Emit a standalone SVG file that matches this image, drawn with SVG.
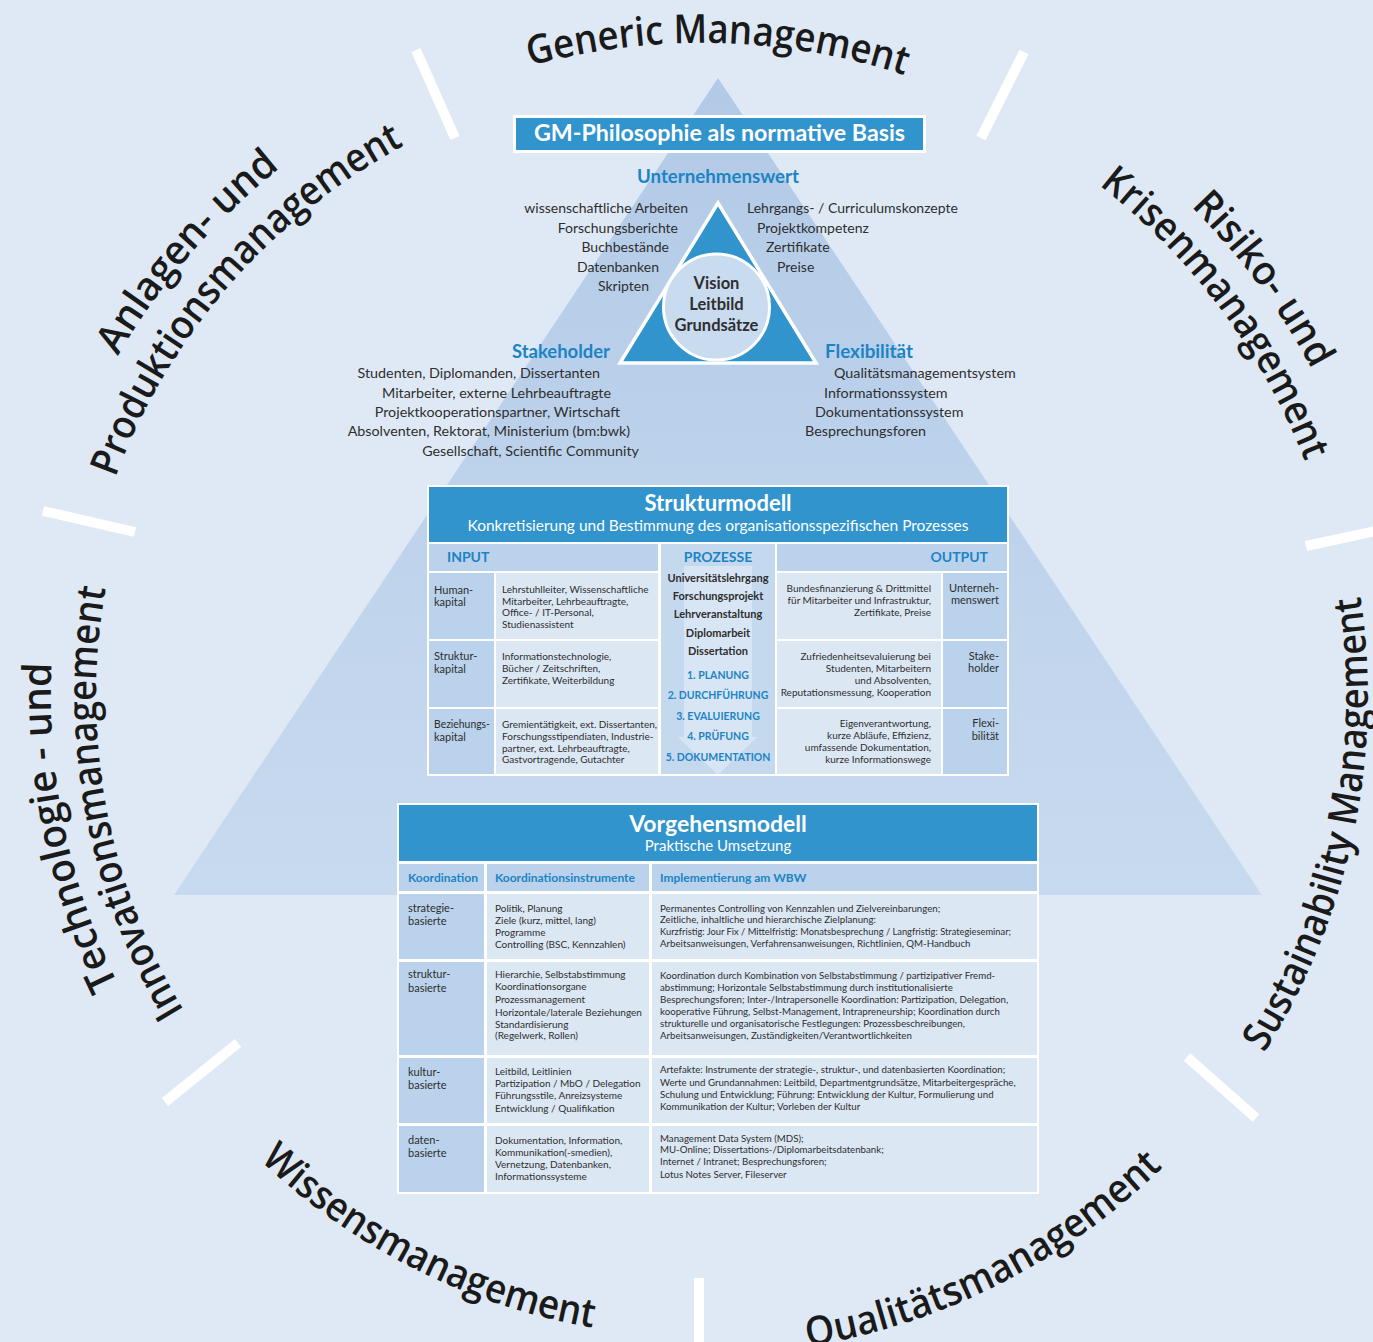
<svg xmlns="http://www.w3.org/2000/svg" width="1373" height="1342" viewBox="0 0 1373 1342">
<defs>
<linearGradient id="pyr" x1="0" y1="0" x2="0" y2="1">
<stop offset="0" stop-color="#b2cae7"/>
<stop offset="1" stop-color="#c8daef"/>
</linearGradient>
<path id="arcGen" d="M94.0,457.7 A653,653 0 0 1 1320.9,487.7"/>
<path id="arcRis1" d="M504.3,32.9 A692,692 0 0 1 1279.7,1076.9"/>
<path id="arcRis2" d="M516.1,76.3 A647,647 0 0 1 1242.8,1051.2"/>
<path id="arcAnl1" d="M111.9,1025.8 A676,676 0 0 1 942.0,64.1"/>
<path id="arcAnl2" d="M154.5,999.5 A626,626 0 0 1 926.4,111.6"/>
<path id="arcTec1" d="M608.0,1340.2 A651,651 0 0 1 359.9,142.1"/>
<path id="arcTec2" d="M602.0,1293.7 A606,606 0 0 1 394.5,173.9"/>
<path id="arcWis" d="M65.4,621.2 A641,641 0 0 0 1141.6,1162.5"/>
<path id="arcQua" d="M250.9,1176.4 A659,659 0 0 0 1356.4,618.0"/>
<path id="arcSus" d="M795.8,1355.3 A666,666 0 0 0 1053.9,130.6"/>
</defs>
<style>
.arc{font-family:'Open Sans',Lato,'DejaVu Sans',sans-serif;font-weight:600;font-size:40px;fill:#1a1a1a;text-anchor:middle}
.sep{stroke:#ffffff;stroke-width:10;fill:none}
.hb{fill:#3194cd}
.dk{fill:#bad2eb}
.lt{fill:#dce7f4}
.wh{fill:#ffffff}
.tx{font-family:Lato,'Open Sans',sans-serif;fill:#2e2e2e}
.bl{font-family:Lato,'Open Sans',sans-serif;fill:#1b84c5;font-weight:700}
.wt{font-family:Lato,'Open Sans',sans-serif;fill:#ffffff}
.b{font-weight:700}
.e{text-anchor:end}
.m{text-anchor:middle}
.f10{font-size:10px}
.f97{font-size:9.7px}
.f11{font-size:11px}
.f14{font-size:14px}
</style>
<rect x="0" y="0" width="1373" height="1342" fill="#dfe9f5"/>
<polygon id="pyramid" points="718,78 174,895 1262,895" fill="url(#pyr)"/>

<g id="separators">
<line class="sep" x1="416" y1="50" x2="455" y2="138"/>
<line class="sep" x1="1024" y1="52" x2="981" y2="138"/>
<line class="sep" x1="43" y1="511" x2="135" y2="532"/>
<line class="sep" x1="1306" y1="546" x2="1380" y2="530"/>
<line class="sep" x1="165" y1="1102" x2="238" y2="1043"/>
<line class="sep" x1="1187" y1="1057" x2="1256" y2="1118"/>
<line class="sep" x1="699" y1="1278" x2="699" y2="1350"/>
</g>

<g id="label-generic-management"><text class="arc"><textPath href="#arcGen" startOffset="50%" textLength="380" lengthAdjust="spacingAndGlyphs">Generic Management</textPath></text></g>
<g id="label-risiko"><text class="arc"><textPath href="#arcRis1" startOffset="50%" textLength="204" lengthAdjust="spacingAndGlyphs">Risiko- und</textPath></text><text class="arc"><textPath href="#arcRis2" startOffset="50%" textLength="349" lengthAdjust="spacingAndGlyphs">Krisenmanagement</textPath></text></g>
<g id="label-anlagen"><text class="arc"><textPath href="#arcAnl1" startOffset="50%" textLength="250" lengthAdjust="spacingAndGlyphs">Anlagen- und</textPath></text><text class="arc"><textPath href="#arcAnl2" startOffset="50%" textLength="450" lengthAdjust="spacingAndGlyphs">Produktionsmanagement</textPath></text></g>
<g id="label-technologie"><text class="arc"><textPath href="#arcTec1" startOffset="50%" textLength="332" lengthAdjust="spacingAndGlyphs">Technologie - und</textPath></text><text class="arc"><textPath href="#arcTec2" startOffset="50%" textLength="439" lengthAdjust="spacingAndGlyphs">Innovationsmanagement</textPath></text></g>
<g id="label-wissensmanagement"><text class="arc"><textPath href="#arcWis" startOffset="50%" textLength="378" lengthAdjust="spacingAndGlyphs">Wissensmanagement</textPath></text></g>
<g id="label-qualitaetsmanagement"><text class="arc"><textPath href="#arcQua" startOffset="50%" textLength="404" lengthAdjust="spacingAndGlyphs">Qualitätsmanagement</textPath></text></g>
<g id="label-sustainability"><text class="arc"><textPath href="#arcSus" startOffset="50%" textLength="477" lengthAdjust="spacingAndGlyphs">Sustainability Management</textPath></text></g>

<g id="gm-philosophie">
<rect class="wh" x="513" y="115" width="413" height="38"/>
<rect class="hb" x="516" y="118" width="407" height="32"/>
<text class="wt b m" x="719.5" y="141" font-size="23" textLength="371" lengthAdjust="spacingAndGlyphs">GM-Philosophie als normative Basis</text>
</g>

<g id="unternehmenswert">
<text class="bl m" x="718" y="183" font-size="18.5" textLength="162" lengthAdjust="spacingAndGlyphs">Unternehmenswert</text>
<text class="tx f14 e" x="688" y="213">wissenschaftliche Arbeiten</text>
<text class="tx f14 e" x="678" y="233">Forschungsberichte</text>
<text class="tx f14 e" x="669" y="252">Buchbestände</text>
<text class="tx f14 e" x="659" y="272">Datenbanken</text>
<text class="tx f14 e" x="649" y="291">Skripten</text>
<text class="tx f14" x="747" y="213">Lehrgangs- / Curriculumskonzepte</text>
<text class="tx f14" x="757" y="233">Projektkompetenz</text>
<text class="tx f14" x="766" y="252">Zertifikate</text>
<text class="tx f14" x="777" y="272">Preise</text>
</g>

<g id="vision-triangle">
<polygon points="718,203 620,363 816,363" fill="#3194cd" stroke="#ffffff" stroke-width="3.5" stroke-linejoin="miter"/>
<circle cx="716.5" cy="307" r="53" fill="#c9dbef" stroke="#ffffff" stroke-width="3"/>
<text class="tx b m" x="716.5" y="289" font-size="16.5" fill="#222">Vision</text>
<text class="tx b m" x="716.5" y="310" font-size="16.5" fill="#222">Leitbild</text>
<text class="tx b m" x="716.5" y="331" font-size="16.5" fill="#222">Grundsätze</text>
</g>

<g id="stakeholder">
<text class="bl e" x="610" y="358" font-size="18.5" textLength="98" lengthAdjust="spacingAndGlyphs">Stakeholder</text>
<text class="tx e" font-size="14.3" x="600" y="378">Studenten, Diplomanden, Dissertanten</text>
<text class="tx e" font-size="14.3" x="611" y="398">Mitarbeiter, externe Lehrbeauftragte</text>
<text class="tx e" font-size="14.3" x="620" y="417">Projektkooperationspartner, Wirtschaft</text>
<text class="tx e" font-size="14.3" x="630" y="436">Absolventen, Rektorat, Ministerium (bm:bwk)</text>
<text class="tx e" font-size="14.3" x="639" y="456">Gesellschaft, Scientific Community</text>
</g>

<g id="flexibilitaet">
<text class="bl" x="825" y="358" font-size="18.5" textLength="88" lengthAdjust="spacingAndGlyphs">Flexibilität</text>
<text class="tx" font-size="14.3" x="834" y="378">Qualitätsmanagementsystem</text>
<text class="tx" font-size="14.3" x="824" y="398">Informationssystem</text>
<text class="tx" font-size="14.3" x="815" y="417">Dokumentationssystem</text>
<text class="tx" font-size="14.3" x="805" y="436">Besprechungsforen</text>
</g>

<g id="strukturmodell">
<rect class="wh" x="427" y="485" width="582" height="291"/>
<rect class="hb" x="429" y="487" width="578" height="55"/>
<text class="wt b m" x="718" y="511" font-size="22">Strukturmodell</text>
<text class="wt m" x="718" y="531" font-size="15.5" textLength="501" lengthAdjust="spacingAndGlyphs">Konkretisierung und Bestimmung des organisationsspezifischen Prozesses</text>
<rect class="dk" x="429" y="544" width="229" height="27"/>
<rect x="661" y="544" width="114" height="230" fill="#c4d8ee"/>
<polygon points="684,566 752,566 752,737 757,737 718,775 678,737 684,737" fill="#ffffff" fill-opacity="0.35"/>
<rect class="dk" x="777" y="544" width="230" height="27"/>
<text class="bl" x="447" y="562" font-size="14">INPUT</text>
<text class="bl m" x="718" y="562" font-size="14">PROZESSE</text>
<text class="bl e" x="988" y="562" font-size="14">OUTPUT</text>
<rect class="dk" x="429" y="573" width="65" height="66"/>
<rect class="lt" x="496" y="573" width="162" height="66"/>
<rect class="dk" x="429" y="641" width="65" height="66"/>
<rect class="lt" x="496" y="641" width="162" height="66"/>
<rect class="dk" x="429" y="709" width="65" height="65"/>
<rect class="lt" x="496" y="709" width="162" height="65"/>
<rect class="lt" x="777" y="573" width="164" height="66"/>
<rect class="dk" x="943" y="573" width="64" height="66"/>
<rect class="lt" x="777" y="641" width="164" height="66"/>
<rect class="dk" x="943" y="641" width="64" height="66"/>
<rect class="lt" x="777" y="709" width="164" height="65"/>
<rect class="dk" x="943" y="709" width="64" height="65"/>
<text class="tx f11"><tspan x="434" y="594">Human-</tspan><tspan x="434" y="606">kapital</tspan></text>
<text class="tx f11"><tspan x="434" y="660">Struktur-</tspan><tspan x="434" y="673">kapital</tspan></text>
<text class="tx f11"><tspan x="434" y="728" textLength="56" lengthAdjust="spacingAndGlyphs">Beziehungs-</tspan><tspan x="434" y="741">kapital</tspan></text>
<text class="tx f10"><tspan x="502" y="593">Lehrstuhlleiter, Wissenschaftliche</tspan><tspan x="502" y="604.5">Mitarbeiter, Lehrbeauftragte,</tspan><tspan x="502" y="616">Office- / IT-Personal,</tspan><tspan x="502" y="628">Studienassistent</tspan></text>
<text class="tx f10"><tspan x="502" y="660">Informationstechnologie,</tspan><tspan x="502" y="672">Bücher / Zeitschriften,</tspan><tspan x="502" y="684">Zertifikate, Weiterbildung</tspan></text>
<text class="tx f10"><tspan x="502" y="728">Gremientätigkeit, ext. Dissertanten,</tspan><tspan x="502" y="740">Forschungsstipendiaten, Industrie-</tspan><tspan x="502" y="752">partner, ext. Lehrbeauftragte,</tspan><tspan x="502" y="763">Gastvortragende, Gutachter</tspan></text>
<text class="tx b m" font-size="11" fill="#222"><tspan x="718" y="582">Universitätslehrgang</tspan><tspan x="718" y="600">Forschungsprojekt</tspan><tspan x="718" y="618">Lehrveranstaltung</tspan><tspan x="718" y="637">Diplomarbeit</tspan><tspan x="718" y="655">Dissertation</tspan></text>
<text class="bl m" font-size="10.5"><tspan x="718" y="679">1. PLANUNG</tspan><tspan x="718" y="699">2. DURCHFÜHRUNG</tspan><tspan x="718" y="720">3. EVALUIERUNG</tspan><tspan x="718" y="740">4. PRÜFUNG</tspan><tspan x="718" y="761">5. DOKUMENTATION</tspan></text>
<text class="tx f10 e"><tspan x="931" y="592">Bundesfinanzierung &amp; Drittmittel</tspan><tspan x="931" y="604">für Mitarbeiter und Infrastruktur,</tspan><tspan x="931" y="616">Zertifikate, Preise</tspan></text>
<text class="tx f10 e"><tspan x="931" y="660">Zufriedenheitsevaluierung bei</tspan><tspan x="931" y="672">Studenten, Mitarbeitern</tspan><tspan x="931" y="684">und Absolventen,</tspan><tspan x="931" y="696">Reputationsmessung, Kooperation</tspan></text>
<text class="tx f10 e"><tspan x="931" y="727">Eigenverantwortung,</tspan><tspan x="931" y="739">kurze Abläufe, Effizienz,</tspan><tspan x="931" y="751">umfassende Dokumentation,</tspan><tspan x="931" y="763">kurze Informationswege</tspan></text>
<text class="tx f11 e"><tspan x="999" y="592">Unterneh-</tspan><tspan x="999" y="604">menswert</tspan></text>
<text class="tx f11 e"><tspan x="999" y="660">Stake-</tspan><tspan x="999" y="672">holder</tspan></text>
<text class="tx f11 e"><tspan x="999" y="727">Flexi-</tspan><tspan x="999" y="740">bilität</tspan></text>
</g>

<g id="vorgehensmodell">
<rect class="wh" x="397" y="803" width="642" height="391"/>
<rect class="hb" x="399" y="805" width="638" height="56"/>
<text class="wt b m" x="718" y="832" font-size="23">Vorgehensmodell</text>
<text class="wt m" x="718" y="851" font-size="15">Praktische Umsetzung</text>
<rect class="dk" x="399" y="864" width="85" height="27"/>
<rect class="dk" x="487" y="864" width="162" height="27"/>
<rect class="dk" x="652" y="864" width="385" height="27"/>
<text class="bl" x="408" y="882" font-size="12">Koordination</text>
<text class="bl" x="495" y="882" font-size="12">Koordinationsinstrumente</text>
<text class="bl" x="660" y="882" font-size="12">Implementierung am WBW</text>
<rect class="dk" x="399" y="894" width="85" height="65"/>
<rect class="lt" x="487" y="894" width="162" height="65"/>
<rect class="lt" x="652" y="894" width="385" height="65"/>
<rect class="dk" x="399" y="962" width="85" height="93"/>
<rect class="lt" x="487" y="962" width="162" height="93"/>
<rect class="lt" x="652" y="962" width="385" height="93"/>
<rect class="dk" x="399" y="1058" width="85" height="65"/>
<rect class="lt" x="487" y="1058" width="162" height="65"/>
<rect class="lt" x="652" y="1058" width="385" height="65"/>
<rect class="dk" x="399" y="1126" width="85" height="66"/>
<rect class="lt" x="487" y="1126" width="162" height="66"/>
<rect class="lt" x="652" y="1126" width="385" height="66"/>
<text class="tx f11"><tspan x="408" y="912">strategie-</tspan><tspan x="408" y="925">basierte</tspan></text>
<text class="tx f11"><tspan x="408" y="978">struktur-</tspan><tspan x="408" y="992">basierte</tspan></text>
<text class="tx f11"><tspan x="408" y="1076">kultur-</tspan><tspan x="408" y="1089">basierte</tspan></text>
<text class="tx f11"><tspan x="408" y="1144">daten-</tspan><tspan x="408" y="1157">basierte</tspan></text>
<text class="tx f10"><tspan x="495" y="912">Politik, Planung</tspan><tspan x="495" y="924">Ziele (kurz, mittel, lang)</tspan><tspan x="495" y="936">Programme</tspan><tspan x="495" y="948">Controlling (BSC, Kennzahlen)</tspan></text>
<text class="tx f10"><tspan x="495" y="978">Hierarchie, Selbstabstimmung</tspan><tspan x="495" y="990">Koordinationsorgane</tspan><tspan x="495" y="1003">Prozessmanagement</tspan><tspan x="495" y="1016">Horizontale/laterale Beziehungen</tspan><tspan x="495" y="1028">Standardisierung</tspan><tspan x="495" y="1039">(Regelwerk, Rollen)</tspan></text>
<text class="tx f10"><tspan x="495" y="1075">Leitbild, Leitlinien</tspan><tspan x="495" y="1087">Partizipation / MbO / Delegation</tspan><tspan x="495" y="1099">Führungsstile, Anreizsysteme</tspan><tspan x="495" y="1112">Entwicklung / Qualifikation</tspan></text>
<text class="tx f10"><tspan x="495" y="1144">Dokumentation, Information,</tspan><tspan x="495" y="1156">Kommunikation(-smedien),</tspan><tspan x="495" y="1168">Vernetzung, Datenbanken,</tspan><tspan x="495" y="1180">Informationssysteme</tspan></text>
<text class="tx f97"><tspan x="660" y="912">Permanentes Controlling von Kennzahlen und Zielvereinbarungen;</tspan><tspan x="660" y="923">Zeitliche, inhaltliche und hierarchische Zielplanung:</tspan><tspan x="660" y="935" textLength="351" lengthAdjust="spacingAndGlyphs">Kurzfristig: Jour Fix / Mittelfristig: Monatsbesprechung / Langfristig: Strategieseminar;</tspan><tspan x="660" y="947">Arbeitsanweisungen, Verfahrensanweisungen,  Richtlinien, QM-Handbuch</tspan></text>
<text class="tx f97"><tspan x="660" y="979">Koordination durch Kombination von Selbstabstimmung / partizipativer Fremd-</tspan><tspan x="660" y="991">abstimmung; Horizontale Selbstabstimmung durch institutionalisierte</tspan><tspan x="660" y="1003">Besprechungsforen; Inter-/Intrapersonelle Koordination: Partizipation, Delegation,</tspan><tspan x="660" y="1015">kooperative Führung, Selbst-Management, Intrapreneurship; Koordination durch</tspan><tspan x="660" y="1027">strukturelle und organisatorische Festlegungen: Prozessbeschreibungen,</tspan><tspan x="660" y="1039">Arbeitsanweisungen, Zuständigkeiten/Verantwortlichkeiten</tspan></text>
<text class="tx f97"><tspan x="660" y="1073">Artefakte: Instrumente der strategie-, struktur-, und datenbasierten Koordination;</tspan><tspan x="660" y="1086">Werte und Grundannahmen: Leitbild, Departmentgrundsätze, Mitarbeitergespräche,</tspan><tspan x="660" y="1098">Schulung und Entwicklung; Führung: Entwicklung der Kultur, Formulierung und</tspan><tspan x="660" y="1110">Kommunikation der Kultur; Vorleben der Kultur</tspan></text>
<text class="tx f97"><tspan x="660" y="1142">Management Data System (MDS);</tspan><tspan x="660" y="1153">MU-Online; Dissertations-/Diplomarbeitsdatenbank;</tspan><tspan x="660" y="1165">Internet / Intranet; Besprechungsforen;</tspan><tspan x="660" y="1178">Lotus Notes Server, Fileserver</tspan></text>
</g>
</svg>
